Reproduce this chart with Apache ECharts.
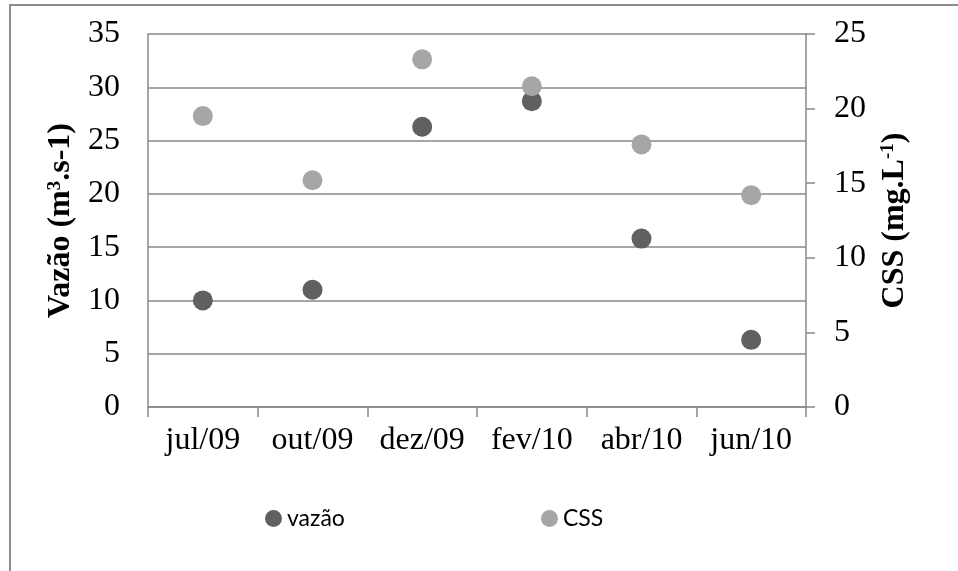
<!DOCTYPE html>
<html>
<head>
<meta charset="utf-8">
<script src="https://cdn.jsdelivr.net/npm/echarts@6/dist/echarts.min.js"></script>
<style>
html,body{margin:0;padding:0;background:#fff;}
#chart{width:958px;height:571px;}
</style>
</head>
<body>
<div id="chart"></div>
<script>
var categories = ['jul/09', 'out/09', 'dez/09', 'fev/10', 'abr/10', 'jun/10'];
var vazao = [10.0, 11.0, 26.3, 28.7, 15.8, 6.3];
var css = [19.5, 15.2, 23.3, 21.5, 17.6, 14.2];
var leftTicks = {min: 0, max: 35, interval: 5};
var rightTicks = {min: 0, max: 25, interval: 5};

var serif = '"Liberation Serif", "Times New Roman", serif';
var sans = 'Lato, "Open Sans", sans-serif';
var gridColor = '#898989';

var chart = echarts.init(document.getElementById('chart'));
chart.setOption({
  animation: false,
  backgroundColor: '#ffffff',
  graphic: [{
    type: 'rect',
    shape: {x: 10, y: 5, width: 1200, height: 1000},
    style: {fill: 'none', stroke: '#8c8c8c', lineWidth: 2},
    silent: true
  }],
  grid: {left: 148, right: 152, top: 34, bottom: 164},
  legend: [{
    data: ['vazão'],
    left: 260, top: 502,
    itemWidth: 17, itemHeight: 17, itemGap: 4,
    icon: 'circle',
    textStyle: {fontFamily: sans, fontSize: 23, color: '#000'}
  }, {
    data: ['CSS'],
    left: 536, top: 502,
    itemWidth: 17, itemHeight: 17, itemGap: 4,
    icon: 'circle',
    textStyle: {fontFamily: sans, fontSize: 23, color: '#000'}
  }],
  xAxis: {
    type: 'category',
    data: categories,
    boundaryGap: true,
    axisLine: {show: true, lineStyle: {color: gridColor, width: 1.5}},
    axisTick: {show: true, interval: 0, length: 10, alignWithLabel: false, lineStyle: {color: gridColor, width: 1.5}},
    axisLabel: {interval: 0, fontFamily: serif, fontSize: 32, color: '#000', margin: 18, hideOverlap: false},
    splitLine: {show: false}
  },
  yAxis: [{
    type: 'value',
    min: leftTicks.min, max: leftTicks.max, interval: leftTicks.interval,
    position: 'left',
    name: '{t|Vazão (m}{s|3}{t|.s-1)}',
    nameLocation: 'middle',
    nameRotate: 90,
    nameGap: 63,
    nameTextStyle: {
      rich: {
        t: {fontFamily: serif, fontSize: 32, fontWeight: 'bold', color: '#000'},
        s: {fontFamily: serif, fontSize: 19, fontWeight: 'bold', color: '#000', verticalAlign: 'top', padding: [0, 0, 12, 0]}
      }
    },
    axisLine: {show: true, lineStyle: {color: gridColor, width: 1.5}},
    axisTick: {show: false},
    axisLabel: {fontFamily: serif, fontSize: 32, color: '#000', margin: 28},
    splitLine: {show: true, lineStyle: {color: gridColor, width: 1.5}}
  }, {
    type: 'value',
    min: rightTicks.min, max: rightTicks.max, interval: rightTicks.interval,
    position: 'right',
    name: '{t|CSS (mg.L}{s|-1}{t|)}',
    nameLocation: 'middle',
    nameRotate: 90,
    nameGap: 73,
    nameTextStyle: {
      rich: {
        t: {fontFamily: serif, fontSize: 32, fontWeight: 'bold', color: '#000'},
        s: {fontFamily: serif, fontSize: 19, fontWeight: 'bold', color: '#000', verticalAlign: 'top', padding: [0, 0, 12, 0]}
      }
    },
    axisLine: {show: true, lineStyle: {color: gridColor, width: 1.5}},
    axisTick: {show: true, length: 9, inside: false, lineStyle: {color: gridColor, width: 1.5}},
    axisLabel: {fontFamily: serif, fontSize: 32, color: '#000', margin: 28},
    splitLine: {show: false}
  }],
  series: [{
    name: 'vazão',
    type: 'scatter',
    yAxisIndex: 0,
    data: vazao,
    symbol: 'circle',
    symbolSize: 20,
    itemStyle: {color: '#606060', opacity: 1}
  }, {
    name: 'CSS',
    type: 'scatter',
    yAxisIndex: 1,
    data: css,
    symbol: 'circle',
    symbolSize: 20,
    itemStyle: {color: '#a6a6a6', opacity: 1}
  }]
});
</script>
</body>
</html>
